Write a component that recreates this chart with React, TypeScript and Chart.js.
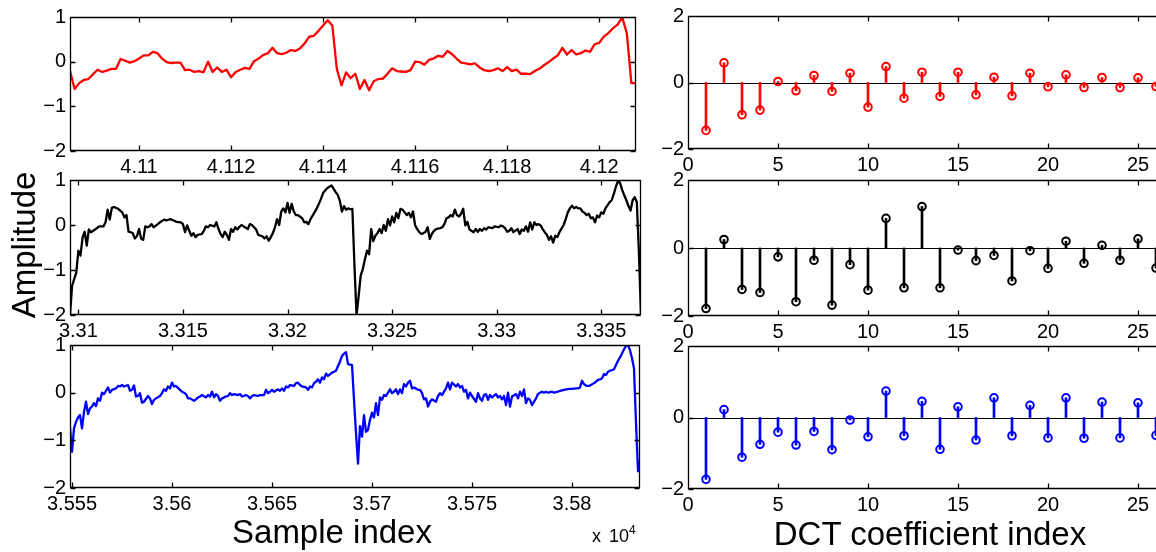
import { useEffect, useRef } from "react";
import { Chart, registerables } from "chart.js";

Chart.register(...registerables);

const FONT = '"Liberation Sans", Arial, Helvetica, sans-serif';

// ---- Time-domain segments (sample index, amplitude) ----

// Segment 1: one value per sample, starting at sample 41085
const redStart = 41085;
const redValues = [
  -0.21, -0.61, -0.48, -0.41, -0.39, -0.28, -0.18, -0.23, -0.2, -0.16,
  -0.16, 0.06, 0.02, -0.02, 0.01, 0.07, 0.14, 0.14, 0.22, 0.19,
  0.07, -0.01, -0.03, -0.02, -0.02, -0.19, -0.18, -0.23, -0.21, -0.24,
  0.0, -0.23, -0.13, -0.23, -0.18, -0.35, -0.23, -0.18, -0.14, -0.16,
  0.01, 0.07, 0.15, 0.19, 0.31, 0.19, 0.17, 0.2, 0.26, 0.24,
  0.3, 0.41, 0.56, 0.58, 0.69, 0.81, 0.93, 0.81, -0.17, -0.53,
  -0.24, -0.37, -0.27, -0.61, -0.41, -0.64, -0.44, -0.39, -0.38, -0.27,
  -0.15, -0.21, -0.22, -0.23, -0.19, 0.0, -0.01, -0.07, 0.04, 0.07,
  0.13, 0.11, 0.24, 0.17, 0.07, -0.02, -0.04, -0.06, -0.04, -0.13,
  -0.19, -0.21, -0.19, -0.15, -0.21, -0.12, -0.21, -0.18, -0.27, -0.27,
  -0.28, -0.21, -0.16, -0.08, -0.01, 0.07, 0.14, 0.31, 0.16, 0.26,
  0.16, 0.19, 0.25, 0.22, 0.39, 0.42, 0.56, 0.64, 0.75, 0.83,
  0.99, 0.64, -0.48, -0.48,
];
const redRange = [41085, 41208];
const redXTicks = [41100, 41120, 41140, 41160, 41180, 41200];

// Segment 2
const blackIdx = [
  33096, 33097, 33099, 33100, 33101, 33102, 33103, 33104, 33105, 33106,
  33108, 33110, 33112, 33113, 33114, 33115, 33116, 33117, 33119, 33121,
  33122, 33123, 33124, 33125, 33126, 33127, 33128, 33129, 33130, 33131,
  33132, 33133, 33134, 33135, 33136, 33138, 33139, 33141, 33142, 33144,
  33145, 33147, 33149, 33150, 33151, 33152, 33154, 33155, 33156, 33157,
  33159, 33160, 33161, 33162, 33163, 33165, 33166, 33167, 33168, 33169,
  33170, 33171, 33172, 33173, 33174, 33175, 33176, 33177, 33178, 33179,
  33181, 33182, 33183, 33184, 33185, 33186, 33188, 33189, 33190, 33191,
  33192, 33193, 33194, 33195, 33196, 33197, 33198, 33199, 33200, 33201,
  33202, 33203, 33204, 33205, 33207, 33208, 33209, 33210, 33211, 33212,
  33214, 33215, 33216, 33217, 33219, 33220, 33221, 33222, 33223, 33224,
  33225, 33226, 33227, 33228, 33229, 33230, 33231, 33232, 33233, 33234,
  33235, 33236, 33237, 33238, 33239, 33240, 33241, 33242, 33243, 33244,
  33245, 33246, 33247, 33248, 33249, 33250, 33251, 33252, 33253, 33254,
  33255, 33256, 33257, 33258, 33259, 33260, 33261, 33262, 33263, 33264,
  33265, 33266, 33267, 33268, 33269, 33270, 33271, 33273, 33274, 33275,
  33276, 33277, 33278, 33279, 33280, 33281, 33282, 33283, 33284, 33285,
  33286, 33287, 33289, 33290, 33291, 33292, 33293, 33294, 33295, 33296,
  33298, 33299, 33301, 33302, 33303, 33304, 33305, 33306, 33307, 33308,
  33310, 33311, 33312, 33313, 33314, 33315, 33316, 33317, 33318, 33319,
  33320, 33321, 33322, 33323, 33324, 33325, 33326, 33327, 33328, 33329,
  33330, 33332, 33333, 33334, 33335, 33336, 33337, 33338, 33339, 33340,
  33341, 33342, 33343, 33344, 33345, 33346, 33347, 33348, 33349, 33350,
  33351, 33352, 33354, 33355, 33356, 33357, 33358, 33359, 33360, 33361,
  33362, 33363, 33364, 33365, 33366, 33367, 33368, 33369,
];
const blackVal = [
  -2.0, -1.35, -1.06, -0.57, -0.68, -0.28, -0.15, -0.46, -0.1, -0.16,
  -0.1, -0.03, -0.03, 0.06, 0.34, 0.12, 0.38, 0.4, 0.36, 0.28,
  0.17, 0.22, -0.15, -0.16, -0.18, -0.3, -0.25, -0.09, -0.3, -0.33,
  -0.03, -0.05, -0.03, 0.02, -0.05, 0.02, 0.06, 0.12, 0.1, 0.13,
  0.11, 0.07, 0.06, 0.02, -0.16, -0.01, -0.24, -0.18, -0.27, -0.22,
  -0.2, -0.13, -0.03, -0.05, 0.0, -0.03, 0.06, -0.09, -0.2, -0.27,
  -0.15, -0.22, -0.33, -0.09, -0.15, -0.05, -0.1, -0.04, 0.0, -0.03,
  -0.09, 0.02, 0.0, -0.05, -0.1, -0.22, -0.25, -0.3, -0.25, -0.35,
  -0.27, -0.18, -0.05, 0.13, 0.0, 0.3, 0.37, 0.28, 0.49, 0.27,
  0.47, 0.3, 0.22, 0.22, 0.15, 0.06, 0.07, 0.02, 0.13, 0.21,
  0.37, 0.47, 0.58, 0.71, 0.82, 0.85, 0.88, 0.81, 0.73, 0.67,
  0.54, 0.3, 0.42, 0.34, 0.37, 0.35, 0.36, -0.9, -2.0, -1.58,
  -1.12, -0.98, -0.76, -0.57, -0.65, -0.09, -0.36, -0.24, -0.18, -0.09,
  -0.18, 0.0, -0.13, 0.13, -0.01, 0.19, 0.06, 0.27, 0.15, 0.36,
  0.34, 0.28, 0.22, 0.27, 0.17, 0.3, -0.01, -0.09, -0.16, -0.2,
  -0.18, -0.15, -0.05, -0.31, -0.2, -0.13, -0.09, -0.07, -0.05, 0.02,
  0.15, 0.17, 0.22, 0.19, 0.34, 0.22, 0.19, 0.25, 0.36, -0.01,
  0.07, -0.1, -0.16, -0.09, -0.15, -0.09, -0.13, -0.07, -0.1, -0.05,
  -0.07, -0.03, -0.05, -0.01, -0.03, -0.07, -0.15, -0.13, -0.07, -0.16,
  -0.09, -0.2, -0.1, -0.13, -0.03, -0.15, 0.06, -0.1, 0.06, 0.0,
  0.02, -0.01, -0.09, -0.16, -0.22, -0.33, -0.25, -0.39, -0.24, -0.27,
  -0.16, 0.0, 0.13, 0.28, 0.37, 0.43, 0.37, 0.4, 0.37, 0.37,
  0.3, 0.27, 0.22, 0.25, 0.15, 0.17, 0.06, 0.21, 0.17, 0.28,
  0.25, 0.37, 0.51, 0.55, 0.69, 0.85, 0.98, 0.93, 0.78, 0.66,
  0.55, 0.42, 0.32, 0.55, 0.62, 0.51, -0.61, -2.0,
];
const blackRange = [33096, 33369];
const blackXTicks = [33100, 33150, 33200, 33250, 33300, 33350];

// Segment 3
const blueIdx = [
  35549, 35550, 35551, 35552, 35553, 35554, 35555, 35556, 35557, 35558,
  35559, 35560, 35561, 35562, 35563, 35564, 35565, 35566, 35567, 35568,
  35569, 35570, 35572, 35573, 35574, 35575, 35576, 35578, 35579, 35580,
  35581, 35582, 35583, 35584, 35585, 35586, 35588, 35589, 35590, 35591,
  35592, 35594, 35595, 35596, 35597, 35598, 35599, 35600, 35601, 35602,
  35604, 35605, 35606, 35607, 35608, 35609, 35611, 35612, 35613, 35614,
  35615, 35617, 35618, 35619, 35620, 35621, 35622, 35623, 35624, 35625,
  35627, 35628, 35629, 35630, 35631, 35633, 35634, 35635, 35637, 35638,
  35639, 35640, 35641, 35643, 35644, 35646, 35647, 35648, 35649, 35650,
  35651, 35653, 35654, 35655, 35656, 35657, 35658, 35659, 35661, 35662,
  35663, 35664, 35665, 35667, 35668, 35669, 35670, 35671, 35672, 35673,
  35674, 35675, 35676, 35677, 35678, 35680, 35681, 35682, 35683, 35684,
  35685, 35686, 35687, 35688, 35690, 35691, 35692, 35693, 35694, 35695,
  35696, 35697, 35698, 35699, 35700, 35701, 35702, 35703, 35704, 35705,
  35706, 35707, 35709, 35710, 35711, 35712, 35713, 35714, 35715, 35716,
  35717, 35718, 35719, 35720, 35721, 35723, 35724, 35725, 35726, 35727,
  35728, 35729, 35730, 35732, 35733, 35734, 35735, 35736, 35737, 35738,
  35739, 35740, 35742, 35743, 35744, 35745, 35746, 35747, 35748, 35749,
  35750, 35752, 35753, 35754, 35755, 35756, 35757, 35758, 35759, 35760,
  35762, 35763, 35764, 35765, 35766, 35767, 35768, 35769, 35770, 35772,
  35773, 35774, 35775, 35776, 35777, 35778, 35779, 35780, 35782, 35783,
  35784, 35785, 35786, 35787, 35788, 35790, 35791, 35793, 35794, 35796,
  35797, 35799, 35800, 35802, 35803, 35804, 35805, 35806, 35807, 35808,
  35809, 35811, 35812, 35813, 35814, 35815, 35816, 35817, 35818, 35819,
  35821, 35822, 35823, 35824, 35825, 35826, 35827, 35828, 35829, 35830,
  35831, 35832, 35833, 35834,
];
const blueVal = [
  -0.73, -1.24, -0.75, -0.61, -0.52, -0.47, -0.75, -0.4, -0.19, -0.45,
  -0.33, -0.29, -0.22, -0.28, -0.12, -0.17, 0.0, -0.03, 0.04, 0.11,
  0.0, 0.06, 0.09, 0.14, 0.13, 0.16, 0.13, 0.16, 0.04, 0.06,
  0.15, -0.08, -0.07, -0.01, -0.21, -0.19, -0.07, -0.12, -0.24, -0.15,
  -0.12, -0.07, -0.01, 0.07, 0.04, 0.13, 0.09, 0.21, 0.13, 0.14,
  0.06, 0.02, 0.0, -0.03, -0.12, -0.12, -0.17, -0.14, -0.1, -0.08,
  -0.05, -0.1, -0.05, -0.08, 0.02, -0.1, -0.03, -0.07, -0.17, -0.12,
  -0.08, -0.07, -0.01, -0.05, -0.03, -0.05, -0.03, -0.08, -0.05, -0.07,
  -0.12, -0.07, -0.05, -0.07, -0.05, -0.05, 0.06, -0.01, 0.02, 0.06,
  0.02, 0.07, 0.04, 0.09, 0.04, 0.13, 0.11, 0.16, 0.14, 0.2,
  0.21, 0.16, 0.13, 0.11, 0.06, 0.13, 0.11, 0.2, 0.23, 0.28,
  0.21, 0.32, 0.28, 0.4, 0.35, 0.42, 0.44, 0.46, 0.56, 0.65,
  0.77, 0.82, 0.85, 0.6, 0.58, -0.15, -0.85, -1.49, -0.7, -0.92,
  -0.47, -0.82, -0.78, -0.57, -0.42, -0.52, -0.22, -0.47, -0.1, -0.15,
  -0.05, -0.07, 0.07, -0.01, 0.02, 0.07, -0.03, 0.07, -0.01, 0.18,
  0.13, 0.21, 0.25, 0.09, 0.11, 0.06, 0.06, -0.01, -0.14, -0.12,
  -0.29, -0.19, -0.14, -0.19, -0.07, -0.01, -0.05, 0.02, 0.09, 0.21,
  0.07, 0.21, 0.13, 0.18, 0.11, 0.14, 0.02, 0.06, -0.12, 0.0,
  -0.07, -0.19, -0.01, -0.12, -0.17, -0.05, -0.03, -0.15, -0.05, -0.1,
  -0.03, -0.1, -0.07, -0.14, -0.07, -0.26, 0.0, -0.29, -0.08, -0.03,
  -0.12, 0.02, -0.07, 0.07, -0.22, -0.12, -0.15, -0.26, -0.12, -0.03,
  0.0, 0.02, 0.0, 0.02, 0.0, 0.02, 0.0, 0.02, 0.04, 0.06,
  0.07, 0.08, 0.08, 0.09, 0.09, 0.11, 0.25, 0.18, 0.15, 0.14,
  0.15, 0.2, 0.23, 0.27, 0.28, 0.3, 0.39, 0.37, 0.44, 0.46,
  0.49, 0.58, 0.67, 0.74, 0.82, 0.91, 0.98, 1.0, 0.89, 0.72,
  0.51, -0.64, -1.65, -1.44,
];
const blueRange = [35549, 35834];
const blueXTicks = [35550, 35600, 35650, 35700, 35750, 35800];

const signalYTicks = [-2, -1, 0, 1];

// ---- DCT coefficients of each segment ----
const dctIndex = [
  1, 2, 3, 4, 5, 6, 7, 8, 9, 10, 11, 12, 13,
  14, 15, 16, 17, 18, 19, 20, 21, 22, 23, 24, 25, 26,
];
const redDct = [
  -1.44, 0.59, -0.97, -0.83, 0.03, -0.25, 0.21, -0.27, 0.28, -0.74, 0.48, -0.47, 0.31,
  -0.42, 0.31, -0.37, 0.16, -0.4, 0.28, -0.13, 0.23, -0.15, 0.15, -0.15, 0.14, -0.12,
];
const blackDct = [
  -1.78, 0.25, -1.22, -1.31, -0.26, -1.58, -0.36, -1.68, -0.49, -1.24, 0.87, -1.17, 1.22,
  -1.17, -0.06, -0.37, -0.22, -0.97, -0.08, -0.6, 0.2, -0.45, 0.08, -0.36, 0.27, -0.59,
];
const blueDct = [
  -1.73, 0.22, -1.11, -0.75, -0.41, -0.77, -0.39, -0.9, -0.07, -0.54, 0.74, -0.51, 0.45,
  -0.89, 0.3, -0.63, 0.55, -0.51, 0.34, -0.57, 0.55, -0.58, 0.43, -0.57, 0.41, -0.5,
];
const dctXTicks = [0, 5, 10, 15, 20, 25];
const dctYTicks = [-2, 0, 2];
const dctRange = [0, 28];

// ---- drawing helpers ----

type Area = { l: number; t: number; r: number; b: number };
type Pads = { left: number; top: number; right: number; bottom: number };

const signalPads: Pads = { left: 70, top: 14, right: 14, bottom: 40 };
const dctPads: Pads = { left: 44, top: 14, right: 14, bottom: 40 };

const minus = (v: number | string) => String(v).replace("-", "\u2212");

// Axes box with inward tick marks on every side, plus optional zero baseline.
const framePlugin = {
  id: "frame",
  beforeDatasetsDraw(chart: any, _args: any, opts: any) {
    if (!opts || !opts.baseline) return;
    const { ctx, chartArea: a, scales } = chart;
    const py = Math.round(scales.y.getPixelForValue(0)) + 0.5;
    ctx.save();
    ctx.strokeStyle = "#000";
    ctx.lineWidth = 1.2;
    ctx.beginPath();
    ctx.moveTo(a.left, py);
    ctx.lineTo(a.right, py);
    ctx.stroke();
    ctx.restore();
  },
  afterDatasetsDraw(chart: any) {
    const { ctx, chartArea: a, scales } = chart;
    const L = Math.round(a.left) + 0.5;
    const R = Math.round(a.right) - 0.5;
    const T = Math.round(a.top) + 0.5;
    const B = Math.round(a.bottom) - 0.5;
    const tl = 5;
    ctx.save();
    ctx.strokeStyle = "#000";
    ctx.lineWidth = 1.3;
    ctx.beginPath();
    ctx.rect(L, T, R - L, B - T);
    for (const t of scales.x.ticks) {
      const px = Math.round(scales.x.getPixelForValue(t.value)) + 0.5;
      ctx.moveTo(px, B);
      ctx.lineTo(px, B - tl);
      ctx.moveTo(px, T);
      ctx.lineTo(px, T + tl);
    }
    for (const t of scales.y.ticks) {
      const py = Math.round(scales.y.getPixelForValue(t.value)) + 0.5;
      ctx.moveTo(L, py);
      ctx.lineTo(L + tl, py);
      ctx.moveTo(R, py);
      ctx.lineTo(R - tl, py);
    }
    ctx.stroke();
    ctx.restore();
  },
};

function axisOptions(
  range: number[],
  ticks: number[],
  pads: Pads,
  fmt: (v: number) => string,
  horizontal: boolean
) {
  return {
    type: "linear",
    min: range[0],
    max: range[1],
    offset: false,
    grid: { display: false, drawTicks: false },
    border: { display: false },
    afterBuildTicks: (s: any) => {
      s.ticks = ticks.map((v) => ({ value: v }));
    },
    afterFit: (s: any) => {
      if (horizontal) s.height = pads.bottom;
      else s.width = pads.left;
    },
    ticks: {
      font: { family: FONT, size: 20 },
      color: "#000",
      padding: 4,
      maxRotation: 0,
      autoSkip: false,
      callback: (v: any) => fmt(Number(v)),
    },
  };
}

function baseOptions(pads: Pads, xAxis: any, yAxis: any, baseline: boolean) {
  return {
    responsive: false,
    animation: false,
    events: [],
    layout: { padding: { left: 0, top: pads.top, right: pads.right, bottom: 0 } },
    plugins: { legend: { display: false }, tooltip: { enabled: false }, frame: { baseline } },
    scales: { x: xAxis, y: yAxis },
  };
}

function signalConfig(xs: number[], ys: number[], color: string, range: number[], xTicks: number[]) {
  const points = xs.map((x, i) => ({ x, y: ys[i] }));
  return {
    type: "line",
    data: {
      datasets: [
        {
          data: points,
          borderColor: color,
          borderWidth: 2.3,
          pointRadius: 0,
          tension: 0,
          fill: false,
          borderJoinStyle: "round",
        },
      ],
    },
    options: baseOptions(
      signalPads,
      axisOptions(range, xTicks, signalPads, (v) => String(v / 1e4), true),
      axisOptions([-2, 1], signalYTicks, signalPads, minus, false),
      false
    ),
    plugins: [framePlugin],
  };
}

function dctConfig(values: number[], color: string) {
  const points = dctIndex.map((x, i) => ({ x, y: values[i] }));
  return {
    type: "scatter",
    data: {
      datasets: [
        {
          type: "scatter",
          data: points,
          pointStyle: "circle",
          pointRadius: 3.8,
          borderWidth: 2,
          borderColor: color,
          backgroundColor: "rgba(0,0,0,0)",
          order: 1,
        },
        {
          type: "bar",
          data: points,
          backgroundColor: color,
          borderWidth: 0,
          barThickness: 2,
          order: 2,
        },
      ],
    },
    options: baseOptions(
      dctPads,
      axisOptions(dctRange, dctXTicks, dctPads, (v) => String(v), true),
      axisOptions([-2, 2], dctYTicks, dctPads, minus, false),
      true
    ),
    plugins: [framePlugin],
  };
}

function Panel({ config, area, pads }: { config: any; area: Area; pads: Pads }) {
  const ref = useRef<HTMLCanvasElement>(null);
  const x = area.l - pads.left;
  const y = area.t - pads.top;
  const w = area.r - area.l + pads.left + pads.right;
  const h = area.b - area.t + pads.top + pads.bottom;
  useEffect(() => {
    const chart = new Chart(ref.current as HTMLCanvasElement, config);
    return () => chart.destroy();
  }, []);
  return (
    <canvas
      ref={ref}
      width={w}
      height={h}
      style={{ position: "absolute", left: x, top: y, width: w, height: h }}
    />
  );
}

const redIdx = redValues.map((_, i) => redStart + i);

export default function App() {
  const label = {
    position: "absolute" as const,
    fontFamily: FONT,
    color: "#000",
    whiteSpace: "nowrap" as const,
  };
  return (
    <div
      style={{
        position: "fixed",
        left: 0,
        top: 0,
        width: 1156,
        height: 552,
        overflow: "hidden",
        background: "#fff",
      }}
    >
      <Panel
        config={signalConfig(redIdx, redValues, "#ff0000", redRange, redXTicks)}
        area={{ l: 70, t: 15, r: 636, b: 151 }}
        pads={signalPads}
      />
      <Panel
        config={signalConfig(blackIdx, blackVal, "#000000", blackRange, blackXTicks)}
        area={{ l: 70, t: 178, r: 641, b: 315 }}
        pads={signalPads}
      />
      <Panel
        config={signalConfig(blueIdx, blueVal, "#0000ff", blueRange, blueXTicks)}
        area={{ l: 70, t: 343, r: 640, b: 488 }}
        pads={signalPads}
      />
      <Panel config={dctConfig(redDct, "#ff0000")} area={{ l: 688, t: 14, r: 1192, b: 149 }} pads={dctPads} />
      <Panel config={dctConfig(blackDct, "#000000")} area={{ l: 688, t: 178, r: 1192, b: 316 }} pads={dctPads} />
      <Panel config={dctConfig(blueDct, "#0000ff")} area={{ l: 688, t: 344, r: 1192, b: 489 }} pads={dctPads} />

      <div
        style={{
          ...label,
          left: 24 - 100,
          top: 245 - 16,
          width: 200,
          height: 32,
          lineHeight: "32px",
          fontSize: 33,
          textAlign: "center",
          transform: "rotate(-90deg)",
        }}
      >
        Amplitude
      </div>
      <div
        style={{
          ...label,
          left: 332 - 150,
          top: 515,
          width: 300,
          lineHeight: "33px",
          fontSize: 33,
          textAlign: "center",
        }}
      >
        Sample index
      </div>
      <div
        style={{
          ...label,
          left: 930 - 200,
          top: 517,
          width: 400,
          lineHeight: "33px",
          fontSize: 33,
          textAlign: "center",
        }}
      >
        DCT coefficient index
      </div>
      <div style={{ ...label, left: 592, top: 527, fontSize: 18, lineHeight: "18px", wordSpacing: 3 }}>
        x 10<span style={{ fontSize: 12, position: "relative", top: -8 }}>4</span>
      </div>
    </div>
  );
}
